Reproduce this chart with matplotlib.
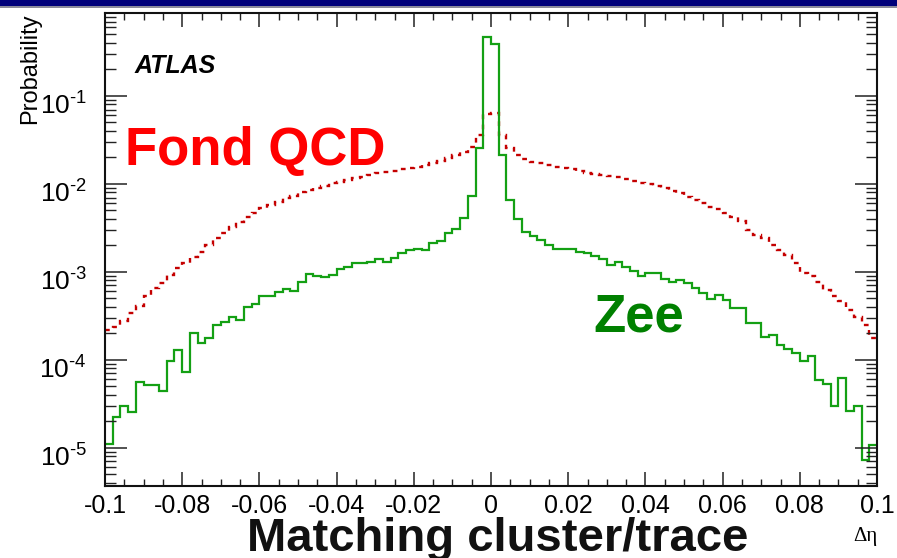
"""
ATLAS track-cluster matching: delta-eta distributions for Zee and QCD background.
"""
import numpy as np
import matplotlib
matplotlib.use('Agg')
import matplotlib.pyplot as plt
from matplotlib.patches import Rectangle
from matplotlib.transforms import ScaledTranslation
from matplotlib.ticker import LogLocator, MultipleLocator, FixedLocator, FuncFormatter, NullFormatter

plt.rcParams['font.family'] = ['Liberation Sans', 'DejaVu Sans']
plt.rcParams['axes.unicode_minus'] = False
plt.rcParams['mathtext.fontset'] = 'custom'
plt.rcParams['mathtext.rm'] = 'Liberation Sans'

# binning of the histograms: 100 bins between -0.1 and 0.1
bin_lo, bin_hi, n_bins = -0.1, 0.1, 100

# log10(probability) per bin
zee_log = [
    -4.955, -4.655, -4.530, -4.595, -4.254, -4.288, -4.288, -4.360, -4.019, -3.886,
    -4.136, -3.700, -3.810, -3.754, -3.606, -3.576, -3.515, -3.553, -3.400, -3.364,
    -3.273, -3.273, -3.235, -3.197, -3.223, -3.117, -3.023, -3.045, -3.064, -3.034,
    -2.970, -2.943, -2.900, -2.894, -2.890, -2.856, -2.886, -2.845, -2.788, -2.750,
    -2.742, -2.750, -2.674, -2.655, -2.561, -2.515, -2.390, -2.136, -1.595, -0.333,
    -0.409, -1.670, -2.182, -2.398, -2.545, -2.587, -2.636, -2.693, -2.742, -2.742,
    -2.739, -2.780, -2.788, -2.818, -2.856, -2.920, -2.883, -2.940, -2.996, -3.045,
    -3.008, -3.008, -3.083, -3.121, -3.091, -3.129, -3.186, -3.242, -3.307, -3.261,
    -3.318, -3.413, -3.413, -3.583, -3.583, -3.742, -3.716, -3.830, -3.875, -3.924,
    -4.019, -3.962, -4.227, -4.276, -4.530, -4.210, -4.587, -4.530, -5.136, -4.966,
]

qcd_log = [
    -3.659, -3.629, -3.564, -3.470, -3.394, -3.280, -3.186, -3.129, -3.034, -2.958,
    -2.902, -2.826, -2.769, -2.693, -2.617, -2.561, -2.485, -2.428, -2.371, -2.326,
    -2.277, -2.239, -2.201, -2.163, -2.136, -2.098, -2.068, -2.049, -2.023, -1.992,
    -1.973, -1.955, -1.936, -1.917, -1.898, -1.879, -1.860, -1.848, -1.833, -1.822,
    -1.803, -1.784, -1.765, -1.735, -1.701, -1.670, -1.633, -1.576, -1.443, -1.205,
    -1.189, -1.443, -1.595, -1.670, -1.720, -1.746, -1.765, -1.784, -1.803, -1.822,
    -1.833, -1.848, -1.871, -1.886, -1.898, -1.909, -1.924, -1.939, -1.962, -1.985,
    -2.004, -2.023, -2.049, -2.076, -2.106, -2.144, -2.182, -2.220, -2.258, -2.284,
    -2.333, -2.371, -2.417, -2.523, -2.580, -2.617, -2.693, -2.750, -2.807, -2.902,
    -3.008, -3.053, -3.114, -3.205, -3.280, -3.337, -3.432, -3.515, -3.602, -3.754,
]

x_ticks = [-0.1, -0.08, -0.06, -0.04, -0.02, 0, 0.02, 0.04, 0.06, 0.08, 0.1]

W, H = 897, 558
fig = plt.figure(figsize=(W / 100, H / 100), dpi=100)
fig.patch.set_facecolor('white')

# slide header band
fig.patches.append(Rectangle((0, 1 - 6 / H), 1, 6 / H, transform=fig.transFigure,
                             facecolor='#00007a', edgecolor='none'))
fig.patches.append(Rectangle((0, 1 - 7.5 / H), 1, 1.5 / H, transform=fig.transFigure,
                             facecolor='#8a8a9a', edgecolor='none'))

ax = fig.add_axes([105 / W, 1 - 486 / H, 772 / W, 473 / H])

edges = np.linspace(bin_lo, bin_hi, n_bins + 1)
zee = 10 ** np.array(zee_log)
qcd = 10 ** np.array(qcd_log)

ax.stairs(qcd, edges, baseline=None, color='#c40000', linewidth=1.7,
          linestyle=(0, (2.0, 2.3)))
ax.stairs(zee, edges, baseline=None, color='#14a014', linewidth=1.6)

ax.set_yscale('log')
ax.set_xlim(bin_lo, bin_hi)
ax.set_ylim(3.67e-6, 0.877)


def pow_label(v, pos):
    e = int(round(np.log10(v)))
    return r'$10^{\text{%d}}$' % e


ax.xaxis.set_major_locator(FixedLocator(x_ticks))
ax.xaxis.set_major_formatter(FuncFormatter(lambda v, p: '%g' % round(v, 3)))
ax.xaxis.set_minor_locator(MultipleLocator(0.005))
ax.yaxis.set_major_locator(LogLocator(base=10, numticks=20))
ax.yaxis.set_major_formatter(FuncFormatter(pow_label))
ax.yaxis.set_minor_locator(LogLocator(base=10, subs=np.arange(2, 10), numticks=20))
ax.yaxis.set_minor_formatter(NullFormatter())

ax.tick_params(which='both', direction='in', top=True, right=True, colors='#222222')
ax.tick_params(axis='x', which='major', length=10, width=1.1, labelsize=18, pad=6, labelcolor='black')
ax.tick_params(axis='x', which='minor', length=5, width=1.0)
ax.tick_params(axis='y', which='major', length=16, width=1.1, labelsize=19, pad=13, labelcolor='black')
ax.tick_params(axis='y', which='minor', length=8, width=1.0)
shift_up = ScaledTranslation(0, 5 / 100, fig.dpi_scale_trans)
for lbl in ax.get_yticklabels():
    lbl.set_verticalalignment('top')
    lbl.set_transform(lbl.get_transform() + shift_up)
for s in ax.spines.values():
    s.set_linewidth(1.5)
    s.set_color('#111111')

fig.text(30 / W, 1 - 13 / H, 'Probability', rotation=90, ha='center', va='top', fontsize=17)
fig.text(877 / W, 1 - 537 / H, '\u0394\u03b7', ha='right', va='center', fontsize=15,
         family=['Liberation Serif', 'DejaVu Serif'])
fig.text(498 / W, 1 - 551 / H, 'Matching cluster/trace', ha='center', va='baseline',
         fontsize=34, fontweight='bold', color='#111111')

ax.text(135 / W, 1 - 73 / H, 'ATLAS', transform=fig.transFigure, fontsize=18,
        fontweight='bold', fontstyle='italic', ha='left', va='baseline')
ax.text(125 / W, 1 - 165 / H, 'Fond QCD', transform=fig.transFigure, fontsize=38,
        fontweight='bold', color='#ff0000', ha='left', va='baseline')
ax.text(593 / W, 1 - 331 / H, 'Zee', transform=fig.transFigure, fontsize=38,
        fontweight='bold', color='#008000', ha='left', va='baseline')

fig.savefig('out.png', dpi=100)
